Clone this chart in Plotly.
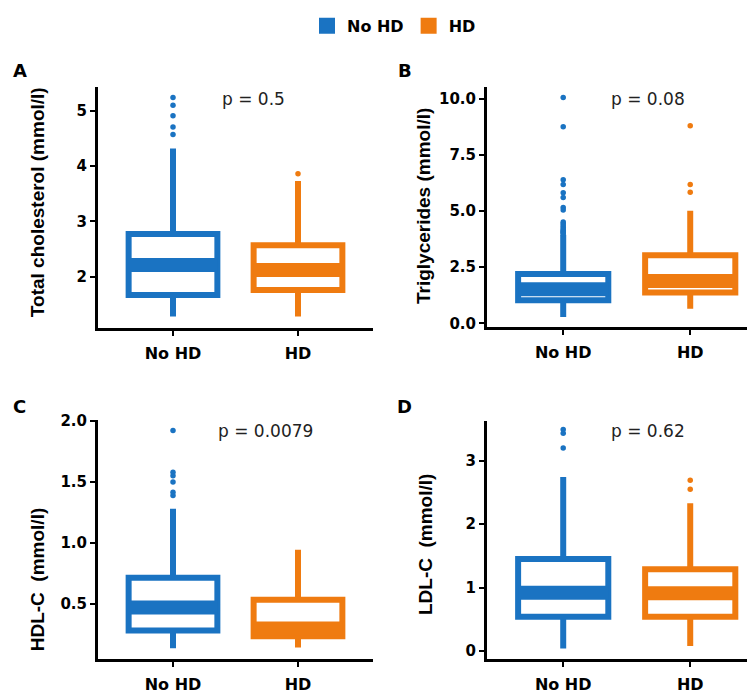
import plotly.graph_objects as go

# The page adds an 8px offset; design in reference pixels and convert.
OFF = 8
REF_W, REF_H = 755, 696
W, H = REF_W - OFF, REF_H - OFF


def fx(px):
    return (px - OFF) / W


def fy(py):
    return 1 - (py - OFF) / H


groups = ["No HD", "HD"]
group_x = [1, 2]
colors = ["#1A73C2", "#EF7B10"]

# Panel A: Total cholesterol
tc_q1 = [1.67, 1.76]
tc_med = [2.21, 2.12]
tc_q3 = [2.77, 2.57]
tc_lo = [1.28, 1.28]
tc_hi = [4.32, 3.73]
tc_out = [[5.24, 5.10, 4.91, 4.71, 4.57], [3.86]]

# Panel B: Triglycerides
tg_q1 = [1.03, 1.37]
tg_med = [1.52, 1.89]
tg_q3 = [2.20, 3.03]
tg_lo = [0.29, 0.65]
tg_hi = [3.95, 5.01]
tg_out = [[10.05, 8.75, 6.39, 6.18, 5.81, 5.60, 5.16, 5.05, 4.51, 4.45, 4.36,
           4.28, 4.20, 4.15, 4.10, 4.06, 4.02, 3.98], [8.79, 6.18, 5.84]]

# Panel C: HDL-C
hdl_q1 = [0.284, 0.238]
hdl_med = [0.473, 0.30]
hdl_q3 = [0.716, 0.537]
hdl_lo = [0.14, 0.145]
hdl_hi = [1.28, 0.945]
hdl_out = [[1.92, 1.58, 1.55, 1.50, 1.415, 1.39], []]

# Panel D: LDL-C
ldl_q1 = [0.54, 0.54]
ldl_med = [0.92, 0.91]
ldl_q3 = [1.45, 1.29]
ldl_lo = [0.04, 0.08]
ldl_hi = [2.74, 2.33]
ldl_out = [[3.49, 3.43, 3.20], [2.69, 2.55]]

p_labels = ["p = 0.5", "p = 0.08", "p = 0.0079", "p = 0.62"]
panel_letters = ["A", "B", "C", "D"]
y_titles = ["Total cholesterol (mmol/l)", "Triglycerides (mmol/l)",
            "HDL-C  (mmol/l)", "LDL-C  (mmol/l)"]

panels = [
    (tc_q1, tc_med, tc_q3, tc_lo, tc_hi, tc_out),
    (tg_q1, tg_med, tg_q3, tg_lo, tg_hi, tg_out),
    (hdl_q1, hdl_med, hdl_q3, hdl_lo, hdl_hi, hdl_out),
    (ldl_q1, ldl_med, ldl_q3, ldl_lo, ldl_hi, ldl_out),
]

# reference-pixel layout of each panel: (left, right, top, bottom)
px_dom = [(98, 373, 80, 326), (487, 755, 80, 325), (98, 373, 420, 664), (487, 755, 421, 664)]
x_ranges = [[0.4, 2.6], [0.4, 2.51], [0.4, 2.6], [0.4, 2.51]]
y_ranges = [[1.08, 5.44], [-0.14, 10.54], [0.054, 2.01], [-0.12, 3.63]]
y_ticks = [[2, 3, 4, 5], [0, 2.5, 5, 7.5, 10], [0.5, 1.0, 1.5, 2.0], [0, 1, 2, 3]]
y_fmt = ["d", ".1f", ".1f", "d"]

BOX_W = 0.71
LW = 6
MED_W = 14

fig = go.Figure()

for k, (q1, med, q3, lo, hi, outs) in enumerate(panels):
    xa = "x" if k == 0 else f"x{k+1}"
    ya = "y" if k == 0 else f"y{k+1}"
    for g in range(2):
        fig.add_trace(go.Box(
            x=[group_x[g]], q1=[q1[g]], median=[med[g]], q3=[q3[g]],
            lowerfence=[lo[g]], upperfence=[hi[g]],
            width=BOX_W, fillcolor="white",
            line=dict(color=colors[g], width=LW),
            boxpoints=False, whiskerwidth=0,
            showlegend=False, xaxis=xa, yaxis=ya, hoverinfo="skip"))
        fig.add_trace(go.Scatter(
            x=[group_x[g] - BOX_W / 2, group_x[g] + BOX_W / 2], y=[med[g], med[g]],
            mode="lines", line=dict(color=colors[g], width=MED_W),
            showlegend=False, xaxis=xa, yaxis=ya, hoverinfo="skip"))
        if outs[g]:
            fig.add_trace(go.Scatter(
                x=[group_x[g]] * len(outs[g]), y=outs[g], mode="markers",
                marker=dict(color=colors[g], size=5.5),
                showlegend=False, xaxis=xa, yaxis=ya, hoverinfo="skip"))

# legend entries
for g in range(2):
    fig.add_trace(go.Scatter(
        x=[None], y=[None], mode="markers", name=groups[g],
        marker=dict(symbol="square", size=16, color=colors[g]),
        xaxis="x", yaxis="y"))

layout = dict(
    width=W, height=H,
    margin=dict(l=0, r=0, t=0, b=0),
    paper_bgcolor="white", plot_bgcolor="white",
    font=dict(family="DejaVu Sans", color="black"),
    showlegend=True,
    legend=dict(orientation="h", x=fx(394), xanchor="center", y=fy(18), yanchor="middle",
                font=dict(size=16, weight="bold", family="DejaVu Sans"),
                itemsizing="trace", tracegroupgap=0),
)

annotations = []
pcenters = [(253, 93), (648, 93), (265, 432), (648, 432)]
letter_pos = [(20, 64), (405, 64), (20, 407), (405, 407)]
title_pos = [(37, 198), (423, 202), (37, 583), (425, 547)]

for k in range(4):
    l, r, t, b = px_dom[k]
    xkey = "xaxis" if k == 0 else f"xaxis{k+1}"
    ykey = "yaxis" if k == 0 else f"yaxis{k+1}"
    xa = "x" if k == 0 else f"x{k+1}"
    layout[xkey] = dict(
        domain=[fx(l), min(fx(r), 1.0)], range=x_ranges[k], anchor=xa.replace("x", "y"),
        tickvals=group_x, ticktext=groups, showline=True, linecolor="black", linewidth=3,
        ticks="outside", ticklen=5, tickwidth=2, tickcolor="black", ticklabelstandoff=4,
        showgrid=False, zeroline=False,
        tickfont=dict(size=16, weight="bold", family="DejaVu Sans", color="black"))
    layout[ykey] = dict(
        domain=[fy(b), fy(t)], range=y_ranges[k], anchor=xa,
        tickvals=y_ticks[k], tickformat=y_fmt[k], showline=True, linecolor="black", linewidth=3,
        ticks="outside", ticklen=5, tickwidth=2, tickcolor="black",
        showgrid=False, zeroline=False,
        tickfont=dict(size=15, weight="bold", family="DejaVu Sans", color="black"))
    px, py = pcenters[k]
    annotations.append(dict(x=fx(px), y=fy(py), xref="paper", yref="paper",
                            text=p_labels[k], showarrow=False, xanchor="center", yanchor="middle",
                            font=dict(size=17, family="DejaVu Sans", color="#222")))
    lx, ly = letter_pos[k]
    annotations.append(dict(x=fx(lx), y=fy(ly), xref="paper", yref="paper",
                            text=panel_letters[k], showarrow=False, xanchor="center", yanchor="middle",
                            font=dict(size=18, weight="bold", family="DejaVu Sans", color="black")))
    tx, ty = title_pos[k]
    annotations.append(dict(x=fx(tx), y=fy(ty), xref="paper", yref="paper",
                            text=y_titles[k], showarrow=False, textangle=-90,
                            xanchor="center", yanchor="middle",
                            font=dict(size=19, weight="bold", family="Liberation Sans", color="black")))

layout["annotations"] = annotations
fig.update_layout(**layout)
fig.write_html("out.html")
